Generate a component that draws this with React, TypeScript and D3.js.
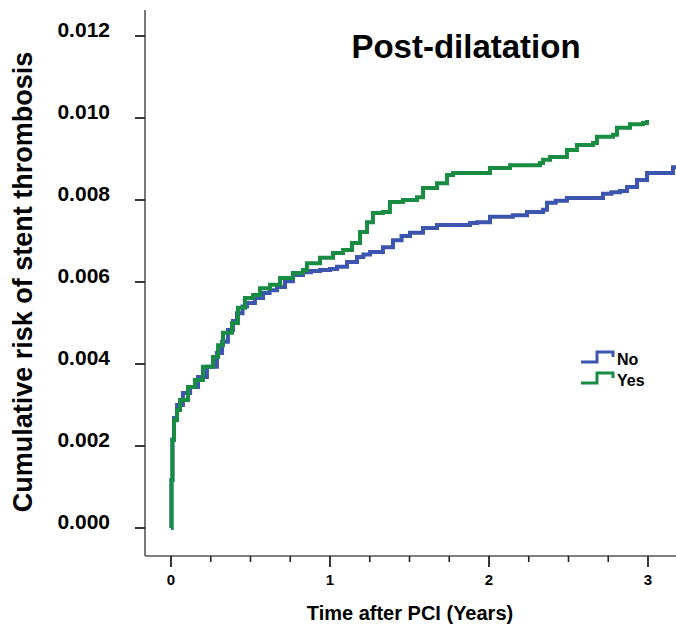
import React from "react";
import * as d3 from "d3";

const yTicks = [0, 0.002, 0.004, 0.006, 0.008, 0.01, 0.012];
const xMajorTicks = [0, 1, 2, 3];
const xMinorTicks = [0.25, 0.5, 0.75, 1.25, 1.5, 1.75, 2.25, 2.5, 2.75, 3.25];

const noTimes = [0, 0.003, 0.009, 0.019, 0.038, 0.075, 0.12, 0.17, 0.226, 0.289, 0.321, 0.358, 0.39, 0.415, 0.45, 0.478, 0.528, 0.579, 0.62, 0.667, 0.717, 0.767, 0.83, 0.88, 0.937, 1.0, 1.044, 1.107, 1.17, 1.21, 1.252, 1.333, 1.396, 1.45, 1.503, 1.585, 1.673, 1.774, 1.881, 1.925, 2.006, 2.15, 2.239, 2.34, 2.365, 2.42, 2.49, 2.698, 2.717, 2.77, 2.824, 2.868, 2.931, 2.994, 3.12, 3.157, 3.2];
const noRisk = [0, 0.00117, 0.00215, 0.00268, 0.003, 0.00329, 0.00344, 0.00368, 0.00393, 0.00427, 0.00454, 0.00483, 0.00505, 0.00524, 0.0054, 0.00549, 0.00561, 0.00573, 0.0058, 0.00588, 0.00602, 0.00617, 0.00624, 0.00627, 0.00629, 0.00632, 0.00637, 0.00649, 0.00661, 0.00667, 0.00673, 0.00685, 0.00702, 0.00712, 0.0072, 0.00732, 0.00739, 0.00739, 0.00744, 0.00746, 0.00759, 0.00763, 0.00771, 0.00776, 0.00793, 0.00798, 0.00805, 0.00805, 0.00815, 0.00819, 0.00822, 0.00832, 0.00849, 0.00866, 0.00866, 0.0088, 0.0089];

const yesTimes = [0, 0.003, 0.009, 0.019, 0.038, 0.057, 0.107, 0.151, 0.201, 0.264, 0.296, 0.327, 0.384, 0.421, 0.465, 0.516, 0.56, 0.623, 0.686, 0.767, 0.83, 0.855, 0.937, 1.019, 1.082, 1.138, 1.189, 1.233, 1.27, 1.333, 1.377, 1.459, 1.547, 1.585, 1.673, 1.736, 1.774, 1.943, 2.006, 2.132, 2.321, 2.34, 2.384, 2.49, 2.553, 2.654, 2.679, 2.78, 2.805, 2.887, 2.969, 2.994];
const yesRisk = [0, 0.00117, 0.00215, 0.00263, 0.00288, 0.00312, 0.00344, 0.00361, 0.00393, 0.00417, 0.00446, 0.00476, 0.005, 0.00537, 0.00561, 0.00568, 0.00585, 0.00593, 0.0061, 0.00622, 0.00629, 0.00646, 0.00659, 0.00671, 0.00678, 0.00695, 0.00722, 0.00746, 0.00768, 0.00771, 0.00795, 0.008, 0.00807, 0.00829, 0.00841, 0.00861, 0.00866, 0.00866, 0.00878, 0.00885, 0.0089, 0.00898, 0.00905, 0.00922, 0.00934, 0.00939, 0.00954, 0.00959, 0.00976, 0.00985, 0.00988, 0.00995];

const seriesNames = ["No", "Yes"];
const colors = ["#3C55AF", "#178C42"];

const FONT = "'Liberation Sans', Arial, Helvetica, sans-serif";

export default function App() {
  const W = 676, H = 632;
  const x = d3.scaleLinear().domain([0, 3]).range([171, 648]);
  const y = d3.scaleLinear().domain([0, 0.012]).range([528, 36]);
  const axisX0 = 145, axisY0 = 556, axisTop = 10;

  const line = d3
    .line<[number, number]>()
    .x((d) => x(d[0]))
    .y((d) => y(d[1]))
    .curve(d3.curveStepAfter);

  const noData: [number, number][] = noTimes.map((t, i) => [t, noRisk[i]]);
  const yesData: [number, number][] = yesTimes.map((t, i) => [t, yesRisk[i]]);
  const series = [noData, yesData];

  const axisColor = "#555";

  return (
    <svg width={W} height={H} style={{ position: "absolute", left: 0, top: 0, background: "#fff" }} fontFamily={FONT}>
      <rect width={W} height={H} fill="#fff" />
      <line x1={axisX0} y1={axisTop} x2={axisX0} y2={axisY0} stroke={axisColor} strokeWidth={1.6} />
      <line x1={axisX0} y1={axisY0} x2={W} y2={axisY0} stroke={axisColor} strokeWidth={1.6} />
      {yTicks.map((v) => (
        <g key={"y" + v}>
          <line x1={axisX0 - 10} x2={axisX0} y1={y(v)} y2={y(v)} stroke="#222" strokeWidth={1.8} />
          <text x={110} y={y(v) - 5} textAnchor="end" dominantBaseline="middle" fontSize={21} fontWeight="bold" fill="#000">
            {v.toFixed(3)}
          </text>
        </g>
      ))}
      {xMajorTicks.map((v) => (
        <g key={"x" + v}>
          <line x1={x(v)} x2={x(v)} y1={axisY0} y2={axisY0 + 11} stroke="#222" strokeWidth={1.8} />
          <text x={x(v)} y={585} textAnchor="middle" fontSize={15} fontWeight="bold" fill="#000">
            {v}
          </text>
        </g>
      ))}
      {xMinorTicks.map((v) => (
        <line key={"xm" + v} x1={x(v)} x2={x(v)} y1={axisY0} y2={axisY0 + 6} stroke="#222" strokeWidth={1.6} />
      ))}
      {series.map((d, i) => (
        <path key={"s" + i} d={line(d) || ""} fill="none" stroke={colors[i]} strokeWidth={4} strokeLinejoin="miter" />
      ))}
      <text x={466} y={58} textAnchor="middle" fontSize={33} fontWeight="bold" fill="#000">
        Post-dilatation
      </text>
      <text x={410} y={620} textAnchor="middle" fontSize={20} fontWeight="bold" fill="#000">
        Time after PCI (Years)
      </text>
      <text transform="translate(32,282) rotate(-90)" textAnchor="middle" fontSize={27} fontWeight="bold" fill="#000">
        Cumulative risk of stent thrombosis
      </text>
      {seriesNames.map((name, i) => {
        const by = 362 + i * 21;
        return (
          <g key={"lg" + i}>
            <path
              d={`M581,${by} H597 V${by - 10} H613 V${by - 5}`}
              fill="none"
              stroke={colors[i]}
              strokeWidth={3}
            />
            <text x={617} y={by + 3} fontSize={16} fontWeight="bold" fill="#000">
              {name}
            </text>
          </g>
        );
      })}
    </svg>
  );
}
